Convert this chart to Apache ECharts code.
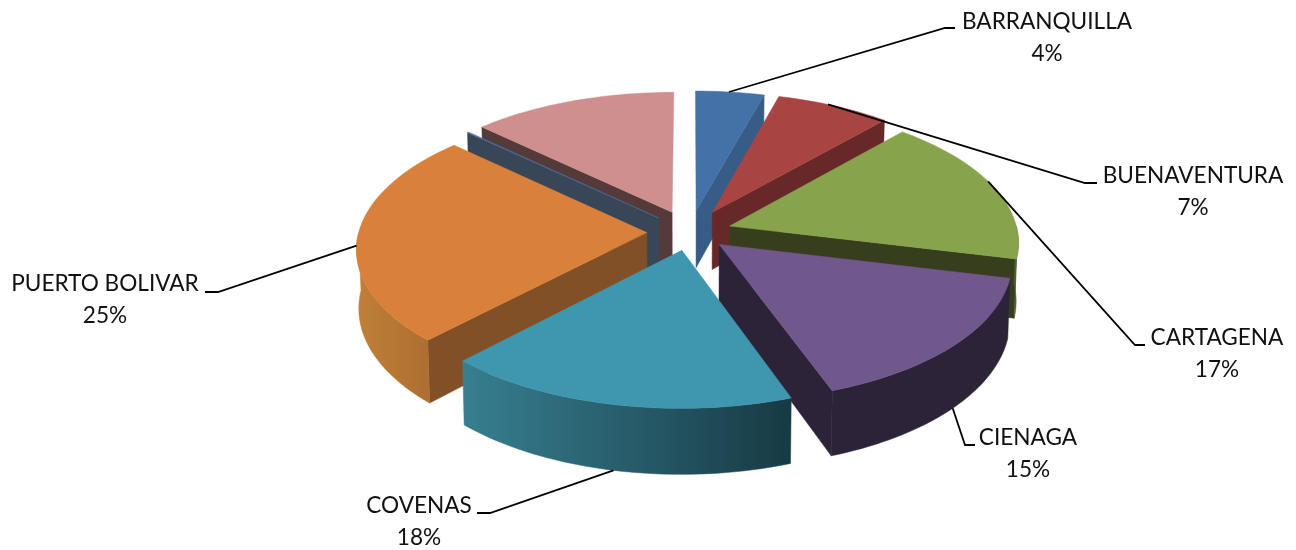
<!DOCTYPE html>
<html><head><meta charset="utf-8">
<style>html,body{margin:0;padding:0;background:#fff}#c{width:1296px;height:550px}</style>
<script src="https://cdn.jsdelivr.net/npm/echarts@6/dist/echarts.min.js"></script>
</head><body><div id="c"></div>
<script>
// --- data ---
var categories = ['BARRANQUILLA','BUENAVENTURA','CARTAGENA','CIENAGA','COVENAS','PUERTO BOLIVAR','','' ];
var values     = [4.3,7.2,17.3,15.7,17.6,24.9,0.1,12.9];
var percentLabels = ['4%','7%','17%','15%','18%','25%','',''];
// --- style ---
var topColors  = ['#4472A6','#A84543','#87A44D','#70578C','#3F96AF','#D9813B','#4A6FA0','#CF8F8F'];
var wallColors = ['#375C87','#672829','#373E1E','#2D2339','#1F4A56','#815026','#394658','#553A3A'];
var rimColors  = [['#375C87','#375C87'],['#672829','#672829'],['#4F6228','#4F6228'],['#2D2339','#2D2339'],
                  ['#377F91','#173A44'],['#C08038','#AD6E32'],['#394658','#394658'],['#553A3A','#553A3A']];
var explode    = [0.16,0.165,0.145,0.135,0.135,0.15,0.15,0.16];
var paintRank  = [1,2,3,5,6,5,4,0];
var cx=690, cy=232, R=288, ry=136.8, persp=0.1075, depth=58;
// leader layout: anchor angle in degrees on the ring, whether it sits on the lower rim, elbow, line end, label centre
var leaderAngle = [7.5,27,70,132,192,264.6];
var leaderLow   = [0,0,0,1,1,0];
var leaderElbow = [[945,28],[1085,183],[1135,345],[965,445],[490,513],[218,292]];
var leaderEnd   = [[955,28],[1097,183],[1145,345],[975,445],[477,513],[205,292]];
var labelCentre = [[1047,38],[1193,192],[1217,354],[1028,454],[419,522],[105,300]];

var total = values.reduce(function(a,b){return a+b;},0);
var starts=[], ends=[]; (function(){var c=0;values.forEach(function(v,i){starts[i]=c/total*360;c+=v;ends[i]=c/total*360;});})();
function rad(d){return d*Math.PI/180;}
// project a point on the disc (u right, w toward the viewer) to the screen
function proj(u,w,low){
  var s=1/(1-persp*w);
  var k=low?0.993:1;
  return [cx+s*R*u*k, cy+ry*w*s+(low?depth*s:0)];
}
function offset(i){var m=rad((starts[i]+ends[i])/2);return [explode[i]*Math.sin(m),-explode[i]*Math.cos(m)];}
function rimPoint(i,deg,low){var o=offset(i),a=rad(deg);return proj(o[0]+Math.sin(a),o[1]-Math.cos(a),low);}
function apex(i,low){var o=offset(i);return proj(o[0],o[1],low);}
function arc(i,a,b,low){var n=Math.max(2,Math.ceil(Math.abs(b-a)/1.5)),p=[];for(var k=0;k<=n;k++)p.push(rimPoint(i,a+(b-a)*k/n,low));return p;}
function poly(pts,fill,z){return {type:'polygon',shape:{points:pts},style:{fill:fill,stroke:fill,lineWidth:0.5},z2:z};}

function renderItem(params){
  var i=params.dataIndex, base=paintRank[i]*10, kids=[];
  var a=starts[i], b=ends[i];
  if(b>0&&b<180) kids.push(poly([apex(i,0),rimPoint(i,b,0),rimPoint(i,b,1),apex(i,1)],wallColors[i],base+1));
  if(a>=180&&a<360) kids.push(poly([apex(i,0),rimPoint(i,a,0),rimPoint(i,a,1),apex(i,1)],wallColors[i],base+1));
  var f=Math.max(a,90), t=Math.min(b,270);
  if(t>f){
    var up=arc(i,f,t,0), dn=arc(i,f,t,1).reverse();
    var fill=new echarts.graphic.LinearGradient(0,0,1,0,[{offset:0,color:rimColors[i][0]},{offset:1,color:rimColors[i][1]}]);
    kids.push(poly(up.concat(dn),fill,base+2));
  }
  kids.push(poly([apex(i,0)].concat(arc(i,a,b,0)),topColors[i],base+3));
  return {type:'group',children:kids};
}
function renderLabels(params){
  var i=params.dataIndex;
  var st=rimPoint(i,leaderAngle[i],leaderLow[i]);
  return {type:'group',children:[
    {type:'polyline',shape:{points:[st,leaderElbow[i],leaderEnd[i]]},style:{stroke:'#000',lineWidth:1.8,fill:null},z2:100},
    {type:'text',style:{text:categories[i]+'\n'+percentLabels[i],x:labelCentre[i][0],y:labelCentre[i][1],align:'center',verticalAlign:'middle',
      font:'22.6px Lato',lineHeight:32,fill:'#111'},z2:101}
  ]};
}
var chart=echarts.init(document.getElementById('c'),null,{renderer:'canvas'});
chart.setOption({
  animation:false,backgroundColor:'#fff',
  series:[
    {type:'custom',coordinateSystem:'none',renderItem:renderItem,data:values,silent:true},
    {type:'custom',coordinateSystem:'none',renderItem:renderLabels,data:values.slice(0,6),silent:true,z:3}
  ]
});
</script></body></html>
